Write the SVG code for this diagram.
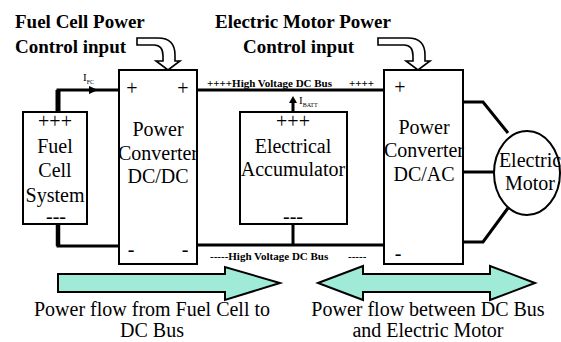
<svg xmlns="http://www.w3.org/2000/svg" width="561" height="342" viewBox="0 0 561 342">
<style>
.box{fill:#fff;stroke:#000;stroke-width:2}
.wire{fill:none;stroke:#000;stroke-width:3}
.t{font-family:"Liberation Serif","Times New Roman",serif;font-size:20px;fill:#000;text-anchor:middle}
.title{font-family:"Liberation Serif","Times New Roman",serif;font-size:19px;font-weight:bold;fill:#000}
.bus{font-family:"Liberation Serif","Times New Roman",serif;font-size:11px;font-weight:bold;fill:#000}
.small{font-family:"Liberation Serif","Times New Roman",serif;font-size:11px;fill:#000}
.sub{font-size:6px}
.flow{fill:#A0EAD8;stroke:#000;stroke-width:2;stroke-linejoin:miter}
.ctrl{fill:#fff;stroke:#000;stroke-width:1.6;stroke-linejoin:miter}
</style>
<rect width="561" height="342" fill="#fff"/>

<g id="connectors">
  <path class="wire" d="M58,112 V90 H119" />
  <path class="wire" d="M58,224 V246 H119" />
  <line x1="58" y1="112" x2="58" y2="90" stroke="#000" stroke-width="5"/>
  <line x1="58" y1="224" x2="58" y2="246" stroke="#000" stroke-width="4.5"/>
  <polygon points="89,86 98,90 89,94" fill="#000"/>
  <line class="wire" x1="197" y1="90" x2="384" y2="90"/>
  <line class="wire" x1="197" y1="245" x2="384" y2="245"/>
  <line class="wire" x1="293" y1="103" x2="293" y2="112"/>
  <polygon points="289,103 293,96 297,103" fill="#000"/>
  <line class="wire" x1="293" y1="224" x2="293" y2="245"/>
  <path class="wire" d="M463,102 H483 L508,133"/>
  <path class="wire" d="M463,172 H494"/>
  <path class="wire" d="M463,242 H483 L508,208"/>
  <text class="bus" x="207" y="87">++++High Voltage DC Bus</text>
  <text class="bus" x="349" y="87">++++</text>
  <text class="bus" x="210" y="260">-----High Voltage DC Bus</text>
  <text class="bus" x="348" y="260">-----</text>
  <text class="small" x="83" y="81">I<tspan class="sub" dy="3">FC</tspan></text>
  <text class="small" x="299" y="104">I<tspan class="sub" dy="3">BATT</tspan></text>
</g>

<g id="fuel-cell-control">
  <text class="title" x="15" y="28">Fuel Cell Power</text>
  <text class="title" x="15" y="53">Control input</text>
  <path class="ctrl" d="M137,38 H158 Q175,38 175,55 V61 H180 L168,70 L156,61 H163 V56 Q163,45 154,45 H137 Z"/>
</g>

<g id="motor-control">
  <text class="title" x="215" y="28">Electric Motor Power</text>
  <text class="title" x="243" y="53">Control input</text>
  <path class="ctrl" d="M378,38 H408 Q425,38 425,55 V61 H430 L418,70 L406,61 H413 V56 Q413,45 404,45 H378 Z"/>
</g>

<g id="fuel-cell-system">
  <rect class="box" x="23" y="112" width="64" height="112"/>
  <text class="t" x="55" y="128">+++</text>
  <text class="t" x="55" y="153">Fuel</text>
  <text class="t" x="55" y="177">Cell</text>
  <text class="t" x="55" y="202">System</text>
  <text class="t" x="56" y="223">---</text>
</g>

<g id="converter-dcdc">
  <rect class="box" x="119" y="70" width="78" height="194"/>
  <text class="t" x="132" y="95">+</text>
  <text class="t" x="183" y="95">+</text>
  <text class="t" x="158" y="136">Power</text>
  <text class="t" x="158" y="160">Converter</text>
  <text class="t" x="158" y="183">DC/DC</text>
  <text class="t" x="131" y="256">-</text>
  <text class="t" x="185" y="256">-</text>
</g>

<g id="accumulator">
  <rect class="box" x="240" y="112" width="107" height="112"/>
  <text class="t" x="293" y="128">+++</text>
  <text class="t" x="293" y="153">Electrical</text>
  <text class="t" x="293" y="176">Accumulator</text>
  <text class="t" x="293" y="223">---</text>
</g>

<g id="converter-dcac">
  <rect class="box" x="384" y="70" width="79" height="194"/>
  <text class="t" x="400" y="94">+</text>
  <text class="t" x="424" y="134">Power</text>
  <text class="t" x="424" y="157">Converter</text>
  <text class="t" x="424" y="181">DC/AC</text>
  <text class="t" x="398" y="260">-</text>
</g>

<g id="electric-motor">
  <ellipse class="box" cx="527" cy="173" rx="33" ry="42"/>
  <text class="t" x="530" y="167">Electric</text>
  <text class="t" x="530" y="190">Motor</text>
</g>

<g id="flow-fc-to-bus">
  <path class="flow" d="M58,274 H225 V267 L280,283 L225,300 V292 H58 Z"/>
  <text class="t" x="152" y="316">Power flow from Fuel Cell to</text>
  <text class="t" x="152" y="337">DC Bus</text>
</g>

<g id="flow-bus-motor">
  <path class="flow" d="M318,283 L363,266 V274 H490 V266 L535,283 L490,300 V292 H363 V300 Z"/>
  <text class="t" x="428" y="316">Power flow between DC Bus</text>
  <text class="t" x="428" y="337">and Electric Motor</text>
</g>
</svg>
